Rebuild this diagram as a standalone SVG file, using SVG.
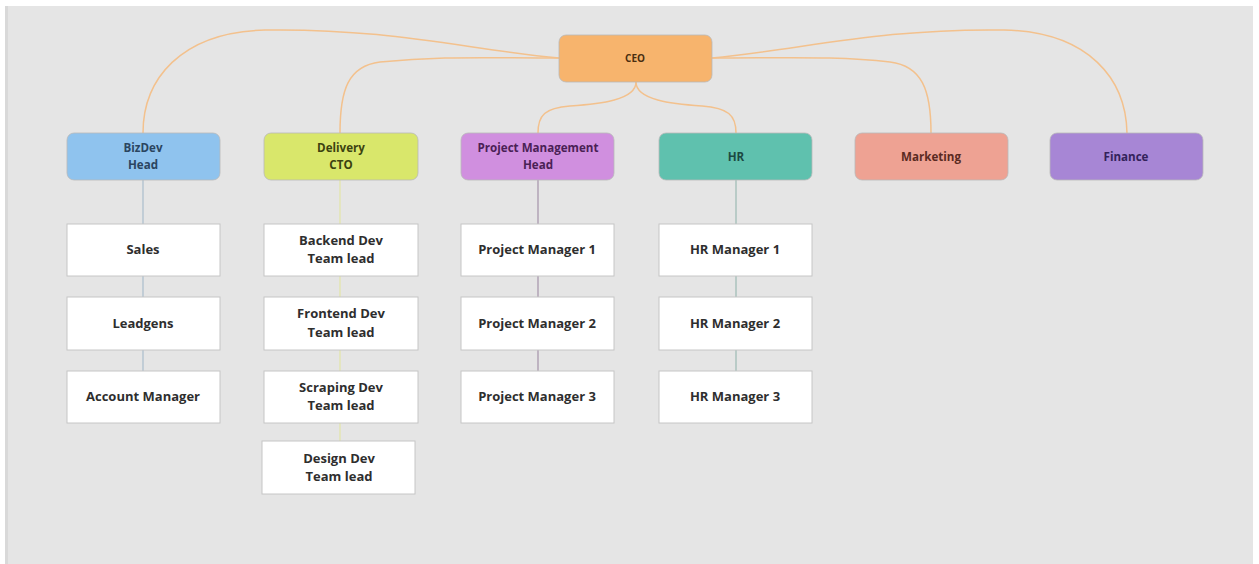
<svg xmlns="http://www.w3.org/2000/svg" width="1259" height="564" viewBox="0 0 1259 564">
<defs>
<style>
.bg{fill:#e5e5e5}
.head{stroke:#b9b9b9;stroke-width:0.8}
.child{fill:#ffffff;stroke:#c6c6c6;stroke-width:1}
.t{font-family:"Open Sans","Liberation Sans",sans-serif;font-weight:700;text-anchor:middle;dominant-baseline:central}
.ht{font-size:11.6px}
.ct{font-size:13px;fill:#2e2e2e}
.cur{fill:none;stroke:#f3c18d;stroke-width:1.5}
.v{fill:none;stroke-width:1.2}
</style>
</defs>
<rect x="0" y="0" width="1259" height="564" fill="#ffffff"/>
<rect class="bg" x="5" y="6" width="1248" height="558"/>
<rect x="5" y="6" width="3" height="558" fill="#d9d9d9"/>

<g id="connectors">
<path class="cur" d="M559,58 C470,50 390,28 265,30 C180,32 143,80 143,133"/>
<path class="cur" d="M559,58 C480,58 440,56 380,62 C348,66 340,90 340,133"/>
<path class="cur" d="M712,58 C800,50 880,28 1004,30 C1090,32 1126,80 1127,133"/>
<path class="cur" d="M712,58 C790,58 840,56 890,62 C922,66 931,90 931,133"/>
<path class="cur" d="M636,82 C636,100 600,104 570,106 C545,108 538,115 538,133"/>
<path class="cur" d="M636,82 C636,100 672,104 702,106 C728,108 736,115 736,133"/>
<g class="v" stroke="#a9bccb">
<line x1="143" y1="180" x2="143" y2="224"/>
<line x1="143" y1="276" x2="143" y2="297"/>
<line x1="143" y1="350" x2="143" y2="371"/>
</g>
<g class="v" stroke="#e2e5a6">
<line x1="340" y1="180" x2="340" y2="224"/>
<line x1="340" y1="276" x2="340" y2="297"/>
<line x1="340" y1="350" x2="340" y2="371"/>
<line x1="340" y1="423" x2="340" y2="441"/>
</g>
<g class="v" stroke="#a392a8">
<line x1="538" y1="180" x2="538" y2="224"/>
<line x1="538" y1="276" x2="538" y2="297"/>
<line x1="538" y1="350" x2="538" y2="371"/>
</g>
<g class="v" stroke="#9bb9b2">
<line x1="736" y1="180" x2="736" y2="224"/>
<line x1="736" y1="276" x2="736" y2="297"/>
<line x1="736" y1="350" x2="736" y2="371"/>
</g>
</g>

<g id="ceo">
<rect class="head" x="559" y="35" width="153" height="47" rx="7" fill="#f7b46d"/>
<text class="t" x="635" y="58" fill="#4a2e10" font-size="10">CEO</text>
</g>

<g id="bizdev">
<rect class="head" x="67" y="133" width="153" height="47" rx="7" fill="#8fc3ee"/>
<text class="t ht" x="143" y="147" fill="#2b4560">BizDev</text>
<text class="t ht" x="143" y="164" fill="#2b4560">Head</text>
</g>
<g id="delivery">
<rect class="head" x="264" y="133" width="154" height="47" rx="7" fill="#d9e76b"/>
<text class="t ht" x="341" y="147" fill="#3c4210">Delivery</text>
<text class="t ht" x="341" y="164" fill="#3c4210">CTO</text>
</g>
<g id="pmhead">
<rect class="head" x="461" y="133" width="153" height="47" rx="7" fill="#d08fdf"/>
<text class="t ht" x="538" y="147" fill="#4a2155">Project Management</text>
<text class="t ht" x="538" y="164" fill="#4a2155">Head</text>
</g>
<g id="hr">
<rect class="head" x="659" y="133" width="153" height="47" rx="7" fill="#5fc1ae"/>
<text class="t ht" x="736" y="156" fill="#1c4a42">HR</text>
</g>
<g id="marketing">
<rect class="head" x="855" y="133" width="153" height="47" rx="7" fill="#eea293"/>
<text class="t ht" x="931" y="156" fill="#5a2a22">Marketing</text>
</g>
<g id="finance">
<rect class="head" x="1050" y="133" width="153" height="47" rx="7" fill="#a786d5"/>
<text class="t ht" x="1126" y="156" fill="#33225a">Finance</text>
</g>

<g id="sales">
<rect class="child" x="67" y="224" width="153" height="52"/>
<text class="t ct" x="143" y="249">Sales</text>
</g>
<g id="leadgens">
<rect class="child" x="67" y="297" width="153" height="53"/>
<text class="t ct" x="143" y="323">Leadgens</text>
</g>
<g id="accountmanager">
<rect class="child" x="67" y="371" width="153" height="52"/>
<text class="t ct" x="143" y="396">Account Manager</text>
</g>

<g id="backend">
<rect class="child" x="264" y="224" width="154" height="52"/>
<text class="t ct" x="341" y="240">Backend Dev</text>
<text class="t ct" x="341" y="258">Team lead</text>
</g>
<g id="frontend">
<rect class="child" x="264" y="297" width="154" height="53"/>
<text class="t ct" x="341" y="313">Frontend Dev</text>
<text class="t ct" x="341" y="332">Team lead</text>
</g>
<g id="scraping">
<rect class="child" x="264" y="371" width="154" height="52"/>
<text class="t ct" x="341" y="387">Scraping Dev</text>
<text class="t ct" x="341" y="405">Team lead</text>
</g>
<g id="design">
<rect class="child" x="262" y="441" width="153" height="53"/>
<text class="t ct" x="339" y="458">Design Dev</text>
<text class="t ct" x="339" y="476">Team lead</text>
</g>

<g id="pm1">
<rect class="child" x="461" y="224" width="153" height="52"/>
<text class="t ct" x="537" y="249">Project Manager 1</text>
</g>
<g id="pm2">
<rect class="child" x="461" y="297" width="153" height="53"/>
<text class="t ct" x="537" y="323">Project Manager 2</text>
</g>
<g id="pm3">
<rect class="child" x="461" y="371" width="153" height="52"/>
<text class="t ct" x="537" y="396">Project Manager 3</text>
</g>

<g id="hr1">
<rect class="child" x="659" y="224" width="153" height="52"/>
<text class="t ct" x="735" y="249">HR Manager 1</text>
</g>
<g id="hr2">
<rect class="child" x="659" y="297" width="153" height="53"/>
<text class="t ct" x="735" y="323">HR Manager 2</text>
</g>
<g id="hr3">
<rect class="child" x="659" y="371" width="153" height="52"/>
<text class="t ct" x="735" y="396">HR Manager 3</text>
</g>
</svg>
